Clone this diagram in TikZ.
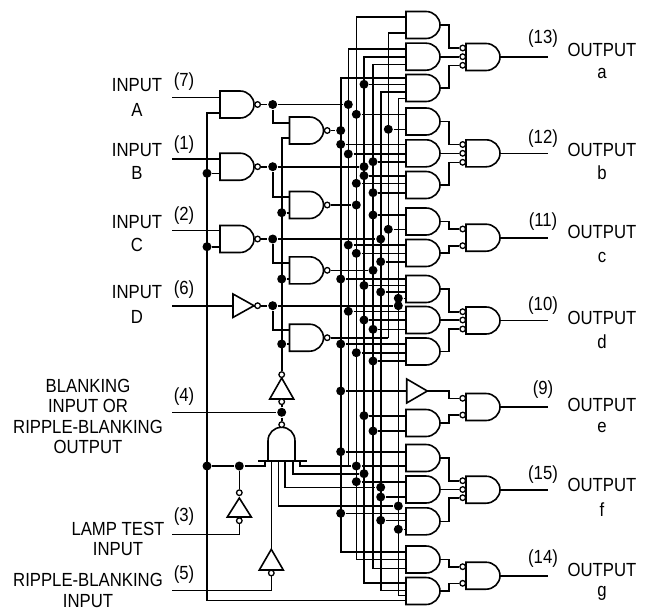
\documentclass[tikz,border=0pt]{standalone}
\usepackage{fontspec}
\setmainfont[FakeStretch=0.88]{Liberation Sans}
\usepackage{tikz}

\begin{document}
\begin{tikzpicture}[x=1pt,y=-1pt,line width=1.6pt,
  dot/.style={circle,fill=black,inner sep=0pt,minimum size=9pt},
  bub/.style={circle,draw,fill=white,inner sep=0pt,minimum size=5.6pt,line width=1.3pt},
  txt/.style={inner sep=0pt,font=\fontsize{19}{20.5}\selectfont,align=center}]
\useasboundingbox (0,0) rectangle (652,610);
% bus lines
\foreach \n/\x in {L0/340.7,L1/348.3,L2/356.3,L3/364,L4/373,L5/380.7,L6/388.3,L7/398.3,
  T/207,V/281.7,jog/449,oend/548}
  \coordinate (\n) at (\x,0);
% gates
\foreach \n/\x/\y in {A/220/104.5,B/220/166.7,C/220/239,
  G1/289.5/130.5,G2/289.5/205,G3/289.5/270.3,G4/289.5/337.7,
  a1/406/25,a2/406/56.7,a3/406/88,b1/406/121.5,b2/406/153.3,b3/406/185,
  c1/406/221.5,c2/406/253,d1/406/289,d2/406/320,d3/406/351.5,
  e2/406/423,f1/406/458,f2/406/489.5,f3/406/521.3,g1/406/559.5,g2/406/591,
  oa/466/57,ob/466/153.3,oc/466/237.7,od/466/320.5,oe/466/407,of/466/489.7,og/466/575.7}{
  \draw (\x,\y-13.5) -- ++(20,0) .. controls +(7.7,0) and +(0,-7.4) .. ++(14,13.5)
    .. controls +(0,7.4) and +(7.7,0) .. ++(-14,13.5) -- ++(-20,0) -- cycle;
  \coordinate (\n i) at (\x,\y);
  \coordinate (\n) at (\x+34,\y);
}
\draw (233,294) -- (233,317.4) -- (254,305.7) -- cycle;
\coordinate (Di) at (233,305.7);
\coordinate (D) at (254,305.7);
\draw (406.7,379) -- (406.7,403) -- (427.3,391) -- cycle;
\coordinate (e1i) at (406.7,391);
\coordinate (e1) at (427.3,391);
\foreach \n/\x/\ya/\yb in {tb/281.7/378/399,lt/239.3/498/517,rb/271.3/549.3/570}{
  \draw (\x,\ya) -- (\x-12,\yb) -- (\x+12,\yb) -- cycle;
  \coordinate (\n) at (\x,\ya);
}
% enable gate
\draw (268,461) -- (268,441) .. controls (268,433) and (274,427.3) .. (281.7,427.3)
  .. controls (289,427.3) and (295,433) .. (295,441) -- (295,461);
\draw (258,461) -- (307,461);
\foreach \n/\x in {nb1/265,nb2/271.3,nb3/278.3,nb4/285,nb5/292.7,nb6/300}
  \coordinate (\n) at (\x,461);
% bubbles
\foreach \n/\x/\y in {Ab/257.6/104.5,Bb/257.6/166.7,Cb/257.6/239,Db/257.6/305.7,
  G1b/327.2/130.5,G2b/327.2/205,G3b/327.2/270.3,G4b/327.2/337.7,
  tbu/281.7/374.6,tbd/281.7/401.7,nbu/281.7/424.6,lu/239.3/492.7,ld/239.3/520.7,rd/271.3/573}
  \node[bub] (\n) at (\x,\y) {};
\foreach \n/\y/\g in {a1b/48/a1,a2b/56.7/a2,a3b/65.3/a3,b1b/144.5/b1,b2b/153.3/b2,b3b/162.3/b3,
  c1b/229/c1,c2b/245.7/c2,d1b/311.7/d1,d2b/320/d2,d3b/329/d3,e1b/398.3/e1,e2b/415/e2,
  f1b/480.7/f1,f2b/489.5/f2,f3b/497.7/f3,g1b/566.7/g1,g2b/583.3/g2}{
  \node[bub] (\n) at (462.7,\y) {};
  \draw (\g) -- (\g -| jog) |- (\n);
}
% outputs
\foreach \n in {oa,ob,oc,od,oe,of,og}
  \draw (\n) -- (\n -| oend);
% inputs and left stage
\foreach \n/\y in {in7/97.3,in1/158.7,in2/230.3,in6/305.7,in4/412.3,in3/534.3,in5/590.3}
  \coordinate (\n) at (172,\y);
\foreach \n/\g in {in7/A,in1/B,in2/C,in6/D}
  \draw (\n) -- (\g i |- \n);
\foreach \g/\b in {A/Ab,B/Bb,C/Cb,D/Db,G1/G1b,G2/G2b,G3/G3b,G4/G4b}
  \draw (\g) -- (\b);
\foreach \n/\y in {jA/104.5,jB/166.7,jC/239,jD/305.7}
  \node[dot] (\n) at (272.7,\y) {};
\foreach \n/\bus/\y/\b/\j in {oA/L1/104.5/Ab/jA,oB/L3/166.7/Bb/jB,oC/L5/239/Cb/jC,oD/L7/305.7/Db/jD}{
  \node[dot] (\n) at (\bus |- 0,\y) {};
  \draw (\b) -- (\j) -- (\n);
}
\foreach \n/\bus/\y/\b in {oG1/L0/130.5/G1b,oG2/L2/205/G2b,oG3/L4/270.3/G3b}{
  \node[dot] (\n) at (\bus |- 0,\y) {};
  \draw (\b) -- (\n);
}
\draw (G4b) -- (G4b -| L6);
\foreach \j/\g/\y in {jA/G1/122.7,jB/G2/196.7,jC/G3/263,jD/G4/330}
  \draw (\j) |- (\g i |- 0,\y);
\draw (G1i |- 0,138) -| (tbu);
\foreach \n/\y/\g in {vG2/212.7/G2,vG3/279/G3,vG4/344/G4}{
  \node[dot] (\n) at (V |- 0,\y) {};
  \draw (\n) -- (\g i |- \n);
}
\foreach \n/\y/\g in {tB/173.3/B,tC/246.7/C}{
  \node[dot] (\n) at (T |- 0,\y) {};
  \draw (\n) -- (\g i |- \n);
}
\node[dot] (jT) at (207,466) {};
\node[dot] (jL) at (239.3,466) {};
\node[dot] (jBI) at (281.7,412.3) {};
\draw (Ai |- 0,112.7) -| (T |- 0,600.5) -- (g2i |- 0,600.5);
\draw (jT) -- (jL) -- (jL -| nb1) -- (nb1);
\draw (tbd) -- (jBI) -- (nbu);
\draw (in4) -- (jBI);
\draw (jL) -- (lu);
\draw (ld) |- (in3);
\draw (rd) |- (in5);
\draw (nb2) -- (rb);
% buses
\foreach \bus/\ga/\ya/\gb/\yb in {L0/a3/77.7/g1/551.7,L2/a1/17.3/g1/559.3,L3/a2/56.7/g2/582.7,
  L4/a2/64.3/g1/568.3,L5/a3/91.7/g2/590.5,L7/a3/98.3/g2/595.5}
  \draw (\ga i |- 0,\ya) -| (\bus |- 0,\yb) -- (\gb i |- 0,\yb);
\draw (a2i |- 0,49) -| (L1 |- 0,466);
\draw (a1i |- 0,33) -| (L6 |- G4b);
% taps on the buses
\foreach \n/\bus/\y/\g in {a3x/L3/84.3/a3,b1x/L2/114.3/b1,b1y/L6/129.3/b1,
  b2x/L0/144.3/b2,b2y/L1/154/b2,b2z/L4/161.7/b2,b3x/L3/175.7/b3,b3y/L2/183.3/b3,b3z/L4/192.7/b3,
  c1x/L4/215/c1,c1y/L6/229.3/c1,c2x/L1/245/c2,c2y/L2/253.3/c2,c2z/L5/261.7/c2,
  d1x/L0/279/d1,d1y/L3/285.5/d1,d1z/L5/292/d1,d1w/L7/298.3/d1,
  d2x/L1/311.3/d2,d2y/L3/320/d2,d2z/L4/329.3/d2,d3x/L0/344/d3,d3y/L2/352.7/d3,d3z/L4/361/d3,
  e1x/L0/391/e1,e2x/L3/415.7/e2,e2y/L4/431/e2,f1x/L0/451.7/f1,f1y/L2/466/f1,
  f2x/L2/481.7/f2,f2y/L5/497/f2,f3x/L0/513.3/f3,f3y/L5/520.3/f3,f3z/L7/529.3/f3}{
  \node[dot] (\n) at (\bus |- 0,\y) {};
  \draw (\n) -- (\g i |- \n);
}
% enable lines
\foreach \n/\bus/\y in {rL3/L3/473.7,rL5/L5/487.3,rL7/L7/506}
  \node[dot] (\n) at (\bus |- 0,\y) {};
\draw (nb3) |- (rL7);
\draw (nb4) |- (rL5);
\draw (nb5) |- (rL3);
\draw (nb6) |- (f1y);
% labels
\foreach \n/\x/\y/\t in {lA/137/85/INPUT,lAb/137/110/A,lB/137/150/INPUT,lBb/137/173/B,
  lC/137/222/INPUT,lCb/137/245/C,lD/137/292/INPUT,lDb/137/317/D,
  p7/184/82/(7),p1/184/145/(1),p2/184/216/(2),p6/184/290/(6),p4/184/397/(4),p3/184/517/(3),p5/184/575/(5),
  oxa/602/50/OUTPUT,oya/602/73/a,oxb/602/150/OUTPUT,oyb/602/173/b,oxc/602/232/OUTPUT,oyc/602/257/c,
  oxd/602/318/OUTPUT,oyd/602/342/d,oxe/602/405/OUTPUT,oye/602/427/e,oxf/602/485/OUTPUT,oyf/602/510/f,
  oxg/602/570/OUTPUT,oyg/602/593/g,
  p13/543/39/(13),p12/543/139/(12),p11/543/222/(11),p10/543/306/(10),p9/543/390/(9),p15/543/475/(15),p14/543/559/(14)}
  \node[txt] (\n) at (\x,\y) {\t};
\node[txt] (lblank) at (88,416.5) {BLANKING\\INPUT OR\\RIPPLE-BLANKING\\OUTPUT};
\node[txt] (llamp) at (118,539) {LAMP TEST\\INPUT};
\node[txt] (lrb) at (88,590.5) {RIPPLE-BLANKING\\INPUT};
\end{tikzpicture}
\end{document}
